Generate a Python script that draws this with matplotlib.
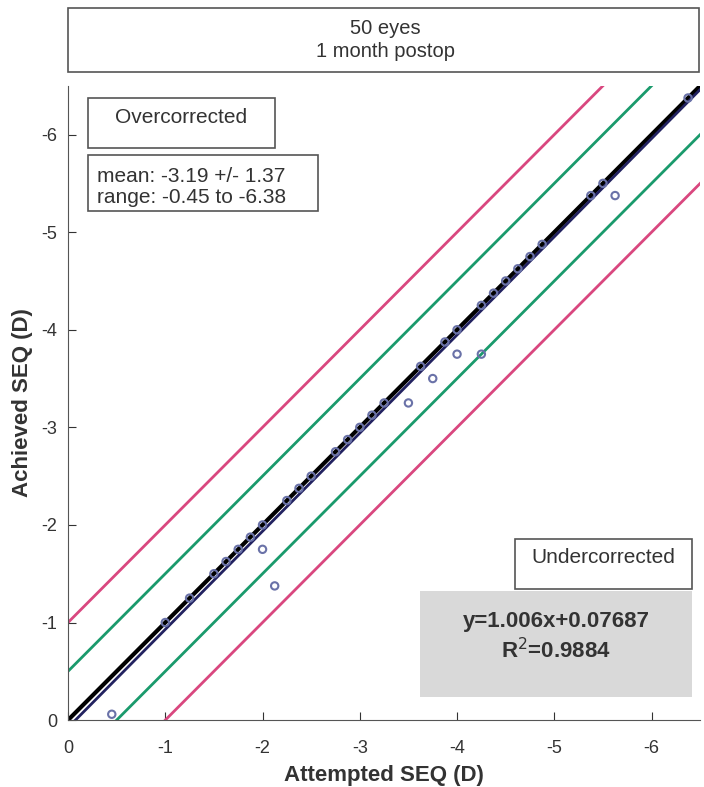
import matplotlib.pyplot as plt
from matplotlib.patches import Rectangle
import numpy as np

plt.rcParams['font.family'] = ['Liberation Sans', 'DejaVu Sans']

# attempted vs achieved SEQ
attempted = [-0.45, -1.0, -1.25, -1.5, -1.625, -1.75, -1.875, -2.0, -2.0, -2.125,
             -2.25, -2.375, -2.5, -2.75, -2.875, -3.0, -3.125, -3.25, -3.5, -3.625,
             -3.75, -3.875, -4.0, -4.0, -4.25, -4.25, -4.375, -4.5, -4.625, -4.75,
             -4.875, -5.375, -5.5, -5.625, -6.375]
achieved = [-0.06, -1.0, -1.25, -1.5, -1.625, -1.75, -1.875, -2.0, -1.75, -1.375,
            -2.25, -2.375, -2.5, -2.75, -2.875, -3.0, -3.125, -3.25, -3.25, -3.625,
            -3.5, -3.875, -4.0, -3.75, -4.25, -3.75, -4.375, -4.5, -4.625, -4.75,
            -4.875, -5.375, -5.5, -5.375, -6.375]

slope = 1.006
intercept = 0.07687
offsets = [-1.0, -0.5, 0.5, 1.0]
offset_colors = ['#d9477f', '#1a9a6c', '#1a9a6c', '#d9477f']
ticks = [0, -1, -2, -3, -4, -5, -6]

fig = plt.figure(figsize=(7.04, 7.87), dpi=100)
ax = fig.add_axes([0.0966, 0.085, 0.898, 0.806])

xs = np.array([0.5, -7.5])
for off, c in zip(offsets, offset_colors):
    ax.plot(xs, xs + off, color=c, lw=2)
ax.plot(xs, xs, color='black', lw=3)
ax.plot(xs, slope * xs + intercept, color='#222260', lw=2)
ax.scatter(attempted, achieved, s=28, facecolors='none', edgecolors='#6a72a8', linewidths=1.5, zorder=5)

ax.set_xlim(0, -6.5)
ax.set_ylim(0, -6.5)
ax.set_xticks(ticks)
ax.set_yticks(ticks)
ax.set_xticklabels([str(t) for t in ticks])
ax.set_yticklabels([str(t) for t in ticks])
ax.tick_params(direction='in', length=6, labelsize=13, colors='#333333')
ax.tick_params(axis='x', pad=14)
ax.tick_params(axis='y', pad=8)
ax.spines['top'].set_visible(False)
ax.spines['right'].set_visible(False)
ax.spines['left'].set_color('#555555')
ax.spines['bottom'].set_color('#555555')
ax.set_xlabel('Attempted SEQ (D)', fontsize=16, fontweight='bold', color='#333333', labelpad=6)
ax.set_ylabel('Achieved SEQ (D)', fontsize=16, fontweight='bold', color='#333333', labelpad=6)

# annotation boxes
def box(x0, y0, x1, y1, fc='white'):
    ax.add_patch(Rectangle((x0, y0), x1 - x0, y1 - y0, transform=ax.transAxes,
                           facecolor=fc, edgecolor='#555555', lw=1.2, clip_on=False, zorder=6))

box(0.032, 0.902, 0.327, 0.980)
ax.text(0.179, 0.950, 'Overcorrected', transform=ax.transAxes, ha='center', va='center',
        fontsize=15, color='#333333', zorder=7)

box(0.032, 0.802, 0.396, 0.891)
ax.text(0.046, 0.840, 'mean: -3.19 +/- 1.37\nrange: -0.45 to -6.38', transform=ax.transAxes,
        ha='left', va='center', fontsize=15, color='#333333', linespacing=1.15, zorder=7)

box(0.707, 0.207, 0.987, 0.286)
ax.text(0.847, 0.256, 'Undercorrected', transform=ax.transAxes, ha='center', va='center',
        fontsize=15, color='#333333', zorder=7)

ax.add_patch(Rectangle((0.557, 0.036), 0.43, 0.168, transform=ax.transAxes,
                       facecolor='#d9d9d9', edgecolor='none', clip_on=False, zorder=6))
ax.text(0.772, 0.131, 'y=1.006x+0.07687\nR$^2$=0.9884', transform=ax.transAxes,
        ha='center', va='center', fontsize=16, fontweight='bold', color='#333333',
        linespacing=1.3, zorder=7)

# title box above the axes
fig.patches.append(Rectangle((0.0966, 0.9085), 0.897, 0.0815, transform=fig.transFigure,
                             facecolor='white', edgecolor='#555555', lw=1.2))
fig.text(0.547, 0.949, '50 eyes\n1 month postop', ha='center', va='center',
         fontsize=14.5, color='#333333', linespacing=1.3)

fig.savefig('out.png', dpi=100)
